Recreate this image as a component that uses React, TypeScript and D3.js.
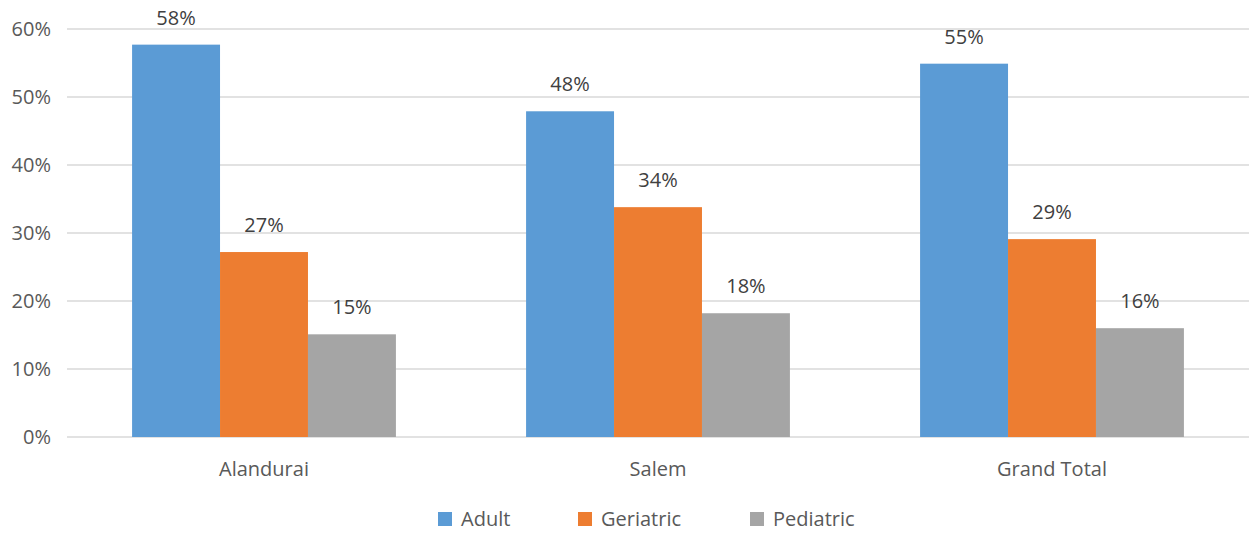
import React from "react";
import * as d3 from "d3";

const categories = ["Alandurai", "Salem", "Grand Total"];
const seriesNames = ["Adult", "Geriatric", "Pediatric"];
const adult = [0.577, 0.479, 0.549];
const geriatric = [0.272, 0.338, 0.291];
const pediatric = [0.151, 0.182, 0.160];
const yTicks = [0, 0.1, 0.2, 0.3, 0.4, 0.5, 0.6];
const colors = ["#5B9BD5", "#ED7D31", "#A5A5A5"];

const W = 1249;
const H = 533;
const left = 67;
const right = 1249;
const top = 29;
const bottom = 437;
const font = "'Open Sans', sans-serif";

export default function App() {
  const series = [adult, geriatric, pediatric];
  const x = d3.scaleBand<string>().domain(categories).range([left, right]).paddingInner(0).paddingOuter(0);
  const inner = d3.scaleBand<string>().domain(seriesNames).range([0, x.bandwidth()]).paddingInner(0).paddingOuter(0.74);
  const y = d3.scaleLinear().domain([0, 0.6]).range([bottom, top]);
  const fmt = d3.format(".0%");
  const legendX = [438, 578, 750];
  return (
    <svg width={W} height={H} style={{ position: "absolute", left: 0, top: 0, background: "#fff" }}>
      {yTicks.map((t) => (
        <g key={t}>
          <line x1={left} x2={right} y1={y(t)} y2={y(t)} stroke="#D9D9D9" strokeWidth={1.5} />
          <text x={51} y={y(t)} dy="0.35em" textAnchor="end" fontFamily={font} fontSize={20} fill="#595959">
            {fmt(t)}
          </text>
        </g>
      ))}
      {categories.map((c, ci) => (
        <g key={c}>
          {series.map((s, si) => {
            const bx = (x(c) as number) + (inner(seriesNames[si]) as number);
            const bw = inner.bandwidth();
            return (
              <g key={si}>
                <rect x={bx} y={y(s[ci])} width={bw} height={bottom - y(s[ci])} fill={colors[si]} />
                <text x={bx + bw / 2} y={y(s[ci]) - 20} textAnchor="middle" fontFamily={font} fontSize={20} fill="#404040">
                  {fmt(s[ci])}
                </text>
              </g>
            );
          })}
          <text x={(x(c) as number) + x.bandwidth() / 2} y={476} textAnchor="middle" fontFamily={font} fontSize={20} fill="#595959">
            {c}
          </text>
        </g>
      ))}
      {seriesNames.map((n, i) => (
        <g key={n}>
          <rect x={legendX[i]} y={512} width={14} height={14} fill={colors[i]} />
          <text x={legendX[i] + 23} y={519} dy="0.35em" fontFamily={font} fontSize={20} fill="#595959">
            {n}
          </text>
        </g>
      ))}
    </svg>
  );
}
